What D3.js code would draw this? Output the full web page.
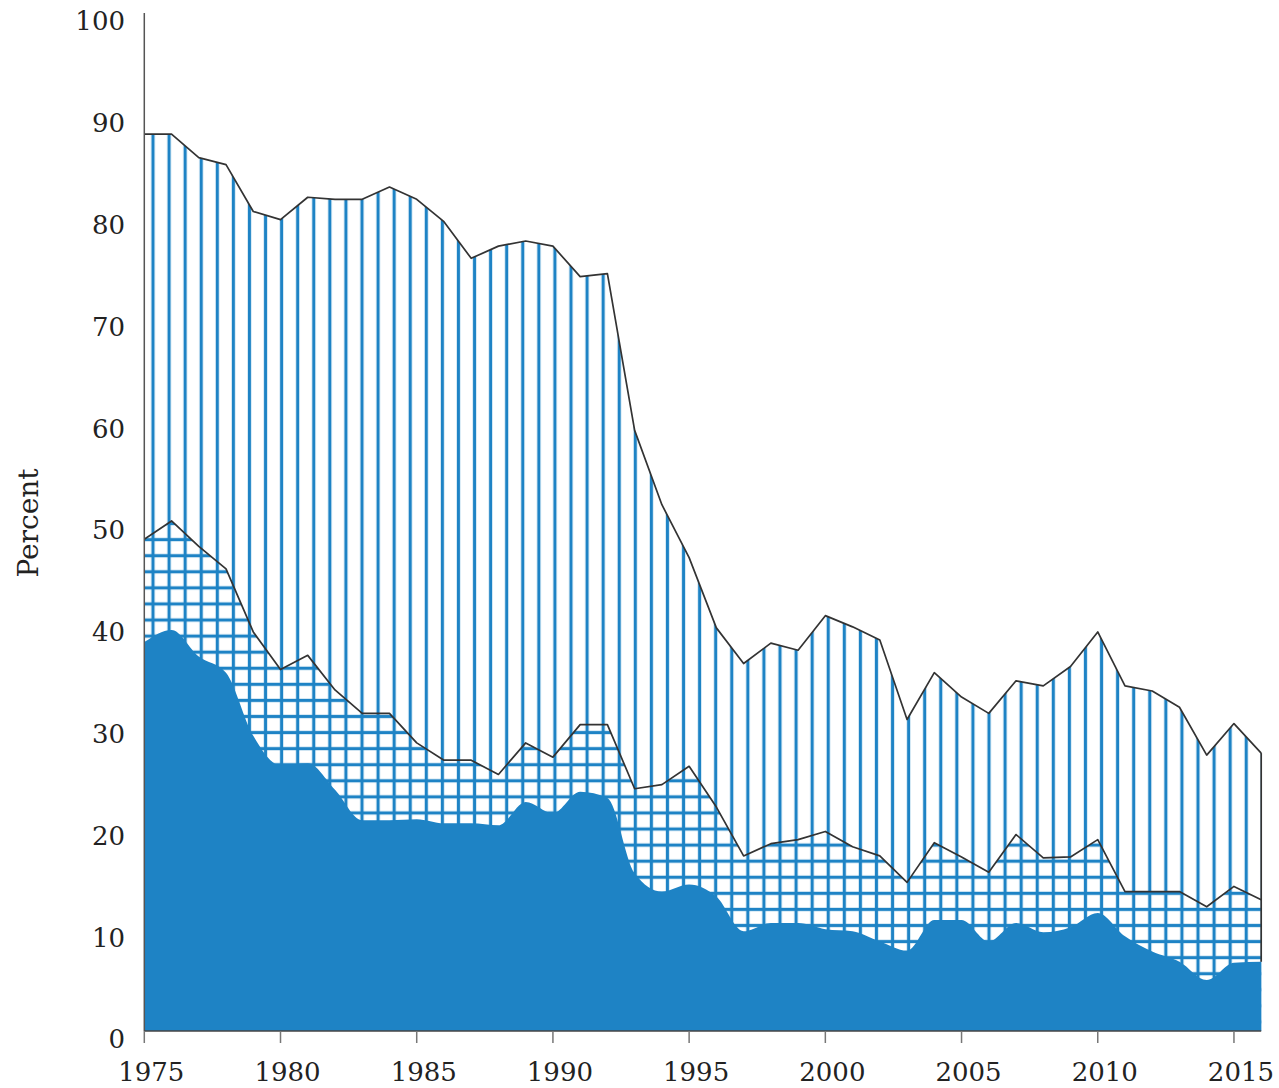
<!DOCTYPE html>
<html>
<meta charset="utf-8">
<style>
  body {
    margin: 0;
    background-color: #fff;
  }
  text {
    font-family: 'DejaVu Serif', serif;
    fill: #222;
  }
</style>
<body>
<script src="https://cdn.jsdelivr.net/npm/d3@7"></script>
<script>

// years on the x axis
var years = d3.range(1975, 2017);

// cumulative shares (percent)
var totalShare = [
  88.1, 88.1, 85.8, 85.1, 80.5, 79.7, 81.9, 81.7, 81.7, 82.9,
  81.7, 79.5, 75.9, 77.1, 77.6, 77.1, 74.1, 74.4, 59.0, 51.7,
  46.5, 39.6, 36.1, 38.1, 37.4, 40.8, 39.7, 38.4, 30.6, 35.2,
  32.8, 31.2, 34.4, 33.9, 35.8, 39.2, 33.9, 33.4, 31.8, 27.1,
  30.2, 27.3
];

var middleShare = [
  48.3, 50.1, 47.6, 45.4, 39.2, 35.5, 36.9, 33.5, 31.2, 31.2,
  28.3, 26.6, 26.6, 25.2, 28.3, 26.9, 30.1, 30.1, 23.8, 24.2,
  26.0, 22.0, 17.2, 18.4, 18.8, 19.6, 18.1, 17.2, 14.6, 18.5,
  17.1, 15.6, 19.3, 17.0, 17.1, 18.8, 13.7, 13.7, 13.7, 12.2,
  14.2, 12.9
];

var bottomShare = [
  38.2, 39.4, 36.8, 35.2, 29.0, 26.1, 26.3, 23.7, 20.7, 20.7,
  20.8, 20.4, 20.4, 20.2, 22.5, 21.4, 23.5, 22.9, 15.5, 13.7,
  14.4, 13.2, 9.8, 10.6, 10.6, 10.0, 9.8, 8.8, 7.9, 10.9,
  10.9, 8.8, 10.6, 9.7, 10.2, 11.6, 9.3, 7.8, 6.8, 5.0,
  6.7, 6.8
];

var xTicks = [1975, 1980, 1985, 1990, 1995, 2000, 2005, 2010, 2015];
var yTicks = [0, 10, 20, 30, 40, 50, 60, 70, 80, 90, 100];

var blue = '#1e83c5';
var width = 1279;
var height = 1088;

var x = d3.scaleLinear().domain([1975, 2016]).range([144.3, 1261.2]);
var y = d3.scaleLinear().domain([0, 100]).range([1031, 13]);

var data = years.map(function(yr, i) {
  return { year: yr, top: totalShare[i], mid: middleShare[i], low: bottomShare[i] };
});

var svg = d3
  .select('body')
  .append('svg')
  .attr('width', width)
  .attr('height', height);

var defs = svg.append('defs');

// vertical stripes
var step = 16.077;
var stripe = 3.2;
var vStripes = defs
  .append('pattern')
  .attr('id', 'vstripes')
  .attr('patternUnits', 'userSpaceOnUse')
  .attr('x', 8.3 - step / 2)
  .attr('y', 0)
  .attr('width', step)
  .attr('height', step);
vStripes
  .append('rect')
  .attr('x', step / 2 - stripe / 2)
  .attr('y', 0)
  .attr('width', stripe)
  .attr('height', step)
  .style('fill', blue);

// horizontal stripes (crossed with the vertical ones below)
var hStripes = defs
  .append('pattern')
  .attr('id', 'hstripes')
  .attr('patternUnits', 'userSpaceOnUse')
  .attr('x', 0)
  .attr('y', 9.1 - step / 2)
  .attr('width', step)
  .attr('height', step);
hStripes
  .append('rect')
  .attr('x', 0)
  .attr('y', step / 2 - stripe / 2)
  .attr('width', step)
  .attr('height', stripe)
  .style('fill', blue);

var areaTop = d3
  .area()
  .x(function(d) { return x(d.year); })
  .y0(y(0))
  .y1(function(d) { return y(d.top); });

var areaMid = d3
  .area()
  .x(function(d) { return x(d.year); })
  .y0(y(0))
  .y1(function(d) { return y(d.mid); });

var areaLow = d3
  .area()
  .curve(d3.curveMonotoneX)
  .x(function(d) { return x(d.year); })
  .y0(y(0))
  .y1(function(d) { return y(d.low); });

svg.append('path').datum(data).attr('d', areaTop).style('fill', 'url(#vstripes)');
svg.append('path').datum(data).attr('d', areaMid).style('fill', 'url(#hstripes)');
svg.append('path').datum(data).attr('d', areaLow).style('fill', blue);

var lineTop = d3
  .line()
  .x(function(d) { return x(d.year); })
  .y(function(d) { return y(d.top); });
var lineMid = d3
  .line()
  .x(function(d) { return x(d.year); })
  .y(function(d) { return y(d.mid); });

svg
  .append('path')
  .datum(data)
  .attr('d', lineTop)
  .style('fill', 'none')
  .style('stroke', '#333')
  .style('stroke-width', 1.7)
  .style('stroke-linejoin', 'round');
svg
  .append('path')
  .datum(data)
  .attr('d', lineMid)
  .style('fill', 'none')
  .style('stroke', '#333')
  .style('stroke-width', 1.7)
  .style('stroke-linejoin', 'round');

// closing edge on the right
var last = data[data.length - 1];
svg
  .append('line')
  .attr('x1', x(last.year))
  .attr('x2', x(last.year))
  .attr('y1', y(last.top))
  .attr('y2', y(last.low))
  .style('stroke', '#333')
  .style('stroke-width', 1.7);

// axes
svg
  .append('line')
  .attr('x1', x(1975))
  .attr('x2', x(1975))
  .attr('y1', y(100))
  .attr('y2', y(0))
  .style('stroke', '#555')
  .style('stroke-width', 1.5);

svg
  .append('line')
  .attr('x1', x(1975))
  .attr('x2', x(2016))
  .attr('y1', y(0))
  .attr('y2', y(0))
  .style('stroke', '#444')
  .style('stroke-width', 1.5);

var xAxis = svg.append('g').attr('class', 'x axis');
xAxis
  .selectAll('line')
  .data(xTicks)
  .enter()
  .append('line')
  .attr('x1', function(d) { return x(d); })
  .attr('x2', function(d) { return x(d); })
  .attr('y1', y(0))
  .attr('y2', y(0) + 12)
  .style('stroke', '#777')
  .style('stroke-width', 1.5);
xAxis
  .selectAll('text')
  .data(xTicks)
  .enter()
  .append('text')
  .attr('x', function(d) { return x(d) + 7; })
  .attr('y', 1081)
  .attr('text-anchor', 'middle')
  .style('font-size', '26px')
  .text(function(d) { return d; });

svg
  .append('g')
  .attr('class', 'y axis')
  .selectAll('text')
  .data(yTicks)
  .enter()
  .append('text')
  .attr('x', 125)
  .attr('y', function(d) { return y(d) + 8; })
  .attr('dy', '0.36em')
  .attr('text-anchor', 'end')
  .style('font-size', '26px')
  .text(function(d) { return d; });

svg
  .append('text')
  .attr('transform', 'translate(38,523) rotate(-90)')
  .attr('text-anchor', 'middle')
  .style('font-size', '28px')
  .text('Percent');

</script>
</body>
</html>
